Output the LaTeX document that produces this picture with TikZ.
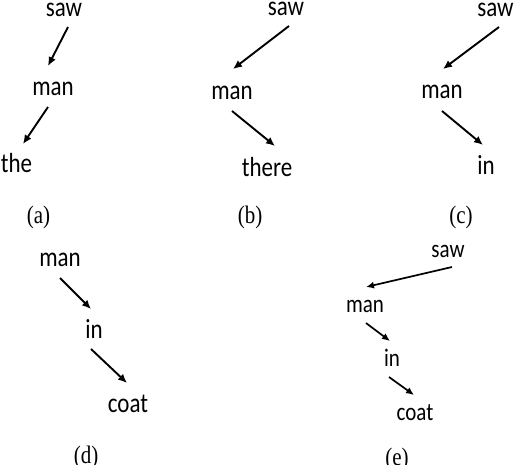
\documentclass[tikz,border=0pt]{standalone}
\usepackage{fontspec}
\setmainfont{Carlito}
\newfontfamily\capfont{Liberation Serif}
\usepackage{graphicx}
\usepackage{tikz}
\usetikzlibrary{arrows.meta}

% words are drawn a little taller than wide
\newcommand{\tallword}[1]{\scalebox{1}[1.2]{#1}}

\tikzset{
  word/.style={anchor=base,inner sep=0pt,font=\fontsize{23}{23}\selectfont},
  small word/.style={word,font=\fontsize{21}{21}\selectfont},
  subcap/.style={anchor=base,inner sep=0pt,font=\capfont\fontsize{21}{21}\selectfont},
  dep/.style={line width=1.9pt,-{Latex[length=9pt,width=8pt]}},
  small dep/.style={line width=1.7pt,-{Latex[length=8pt,width=7pt]}}
}

\begin{document}
\begin{tikzpicture}[x=1pt,y=-1pt]
  \useasboundingbox (0,0) rectangle (514,464);
  % (a)
  \node[word] (sawA) at (64,16.5) {\tallword{saw}};
  \node[word] (manA) at (53,95) {\tallword{man}};
  \node[word] (theA) at (16.5,172) {\tallword{the}};
  \draw[dep] ([shift={(4,10.5)}]sawA.base) -- ([shift={(-5,-29)}]manA.base);
  \draw[dep] ([shift={(-5,12)}]manA.base) -- ([shift={(6.5,-28)}]theA.base);
  \node[subcap] (capA) at (38.5,223) {\tallword{(a)}};
  % (b)
  \node[word] (sawB) at (286,15) {\tallword{saw}};
  \node[word] (manB) at (232,99) {\tallword{man}};
  \node[word] (thereB) at (267,176) {\tallword{there}};
  \draw[dep] ([shift={(3,11)}]sawB.base) -- ([shift={(1,-30)}]manB.base);
  \draw[dep] ([shift={(0,12)}]manB.base) -- ([shift={(8,-30)}]thereB.base);
  \node[subcap] (capB) at (250,223) {\tallword{(b)}};
  % (c)
  \node[word] (sawC) at (495.5,16) {\tallword{saw}};
  \node[word] (manC) at (442,98) {\tallword{man}};
  \node[word] (inC) at (486,174) {\tallword{in}};
  \draw[dep] ([shift={(3.5,11)}]sawC.base) -- ([shift={(1,-29)}]manC.base);
  \draw[dep] ([shift={(0,13)}]manC.base) -- ([shift={(-3,-29)}]inC.base);
  \node[subcap] (capC) at (461,223) {\tallword{(c)}};
  % (d)
  \node[word] (manD) at (60,266) {\tallword{man}};
  \node[word] (inD) at (94,338) {\tallword{in}};
  \node[word] (coatD) at (128,412) {\tallword{coat}};
  \draw[dep] ([shift={(0,12)}]manD.base) -- ([shift={(-3,-29)}]inD.base);
  \draw[dep] ([shift={(-3,11)}]inD.base) -- ([shift={(-1,-29)}]coatD.base);
  \node[subcap] (capD) at (86,463) {\tallword{(d)}};
  % (e)
  \node[small word] (sawE) at (448,257) {\tallword{saw}};
  \node[small word] (manE) at (365,312) {\tallword{man}};
  \node[small word] (inE) at (392,366) {\tallword{in}};
  \node[small word] (coatE) at (415,420) {\tallword{coat}};
  \draw[small dep] ([shift={(4,10)}]sawE.base) -- ([shift={(1,-25)}]manE.base);
  \draw[small dep] ([shift={(1,11)}]manE.base) -- ([shift={(-2,-25)}]inE.base);
  \draw[small dep] ([shift={(-3,11)}]inE.base) -- ([shift={(-1,-25)}]coatE.base);
  \node[subcap] (capE) at (397,465) {\tallword{(e)}};
\end{tikzpicture}
\end{document}
